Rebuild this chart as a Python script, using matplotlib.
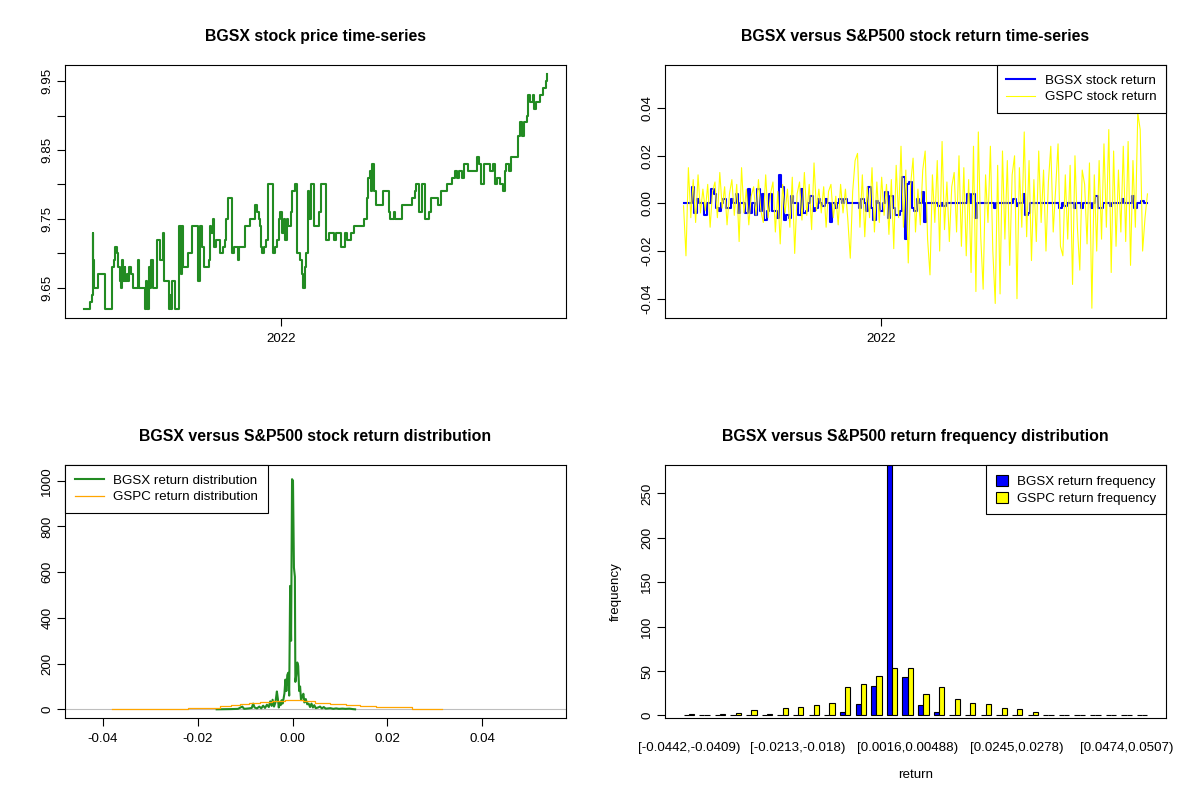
import numpy as np
import pandas as pd
import matplotlib
matplotlib.use("Agg")
import matplotlib.pyplot as plt
from matplotlib.patches import Patch

plt.rcParams['font.family'] = ['Liberation Sans', 'DejaVu Sans']

# ---- data ----
start = pd.Timestamp("2021-05-05")
end = pd.Timestamp("2022-11-22")

# BGSX price: change points (days since start, price)
price_day = [0, 8, 10, 11.5, 12, 13, 18, 26, 35, 37, 38, 41, 42, 44, 45.6, 47, 48, 50, 51, 53,
             54.6, 56, 58, 60, 66, 68, 74.5, 76.5, 78, 80, 81.4, 82, 84.7, 90, 93, 97, 98.5, 104, 105, 106.6,
             108, 112, 117, 119, 120, 121.7, 128, 132, 140, 142, 145, 147, 152.6, 154, 156, 158, 159.5, 161, 167, 170,
             172.5, 174, 176, 181.5, 184, 188, 190, 197, 202.6, 209.5, 211.5, 214, 215, 216.4, 217.6, 220.5, 222, 224.5, 231, 234,
             236, 238, 240, 242.4, 244.5, 246, 247.7, 249.8, 253, 254.6, 258, 261, 263.6, 266, 267.7, 270, 272, 273.4, 275.4, 277.4,
             280.7, 286.8, 289.6, 296, 300, 306, 308, 314, 319, 321, 326, 330, 341.7, 345.7, 347.4, 349, 350.6, 352, 354.7, 356.3,
             365, 372.6, 373.4, 379, 380, 388.4, 400.6, 404.7, 406, 409, 413, 416, 422, 424, 433, 436, 444, 449.4, 453.5, 456,
             458, 461.6, 464.5, 468.6, 480, 482.4, 485, 488, 495.4, 500, 501.5, 505, 508.4, 511.7, 513.7, 515.7, 518.6, 521.4, 530, 533,
             535, 537, 541, 542, 545, 548, 549.5, 552, 556.4, 560, 564, 565.4, 566]
price = [9.62, 9.63, 9.64, 9.73, 9.69, 9.65, 9.67, 9.62, 9.68, 9.69, 9.71, 9.70, 9.68, 9.66, 9.65, 9.69, 9.66, 9.68, 9.66, 9.67,
         9.66, 9.68, 9.67, 9.65, 9.69, 9.65, 9.62, 9.66, 9.62, 9.68, 9.65, 9.69, 9.65, 9.72, 9.69, 9.73, 9.66, 9.62, 9.64, 9.62,
         9.66, 9.62, 9.74, 9.67, 9.74, 9.68, 9.70, 9.74, 9.66, 9.74, 9.71, 9.68, 9.69, 9.74, 9.73, 9.75, 9.71, 9.72, 9.70, 9.71,
         9.72, 9.75, 9.78, 9.70, 9.71, 9.69, 9.71, 9.74, 9.75, 9.77, 9.76, 9.75, 9.74, 9.71, 9.70, 9.71, 9.72, 9.80, 9.70, 9.71,
         9.72, 9.75, 9.76, 9.73, 9.75, 9.72, 9.75, 9.74, 9.76, 9.79, 9.80, 9.70, 9.69, 9.67, 9.65, 9.68, 9.70, 9.79, 9.75, 9.80,
         9.74, 9.76, 9.80, 9.72, 9.73, 9.72, 9.73, 9.71, 9.73, 9.72, 9.73, 9.74, 9.75, 9.78, 9.81, 9.82, 9.79, 9.83, 9.79, 9.77,
         9.79, 9.76, 9.75, 9.76, 9.75, 9.77, 9.78, 9.79, 9.80, 9.76, 9.80, 9.75, 9.76, 9.78, 9.77, 9.79, 9.80, 9.81, 9.82, 9.81,
         9.82, 9.81, 9.83, 9.82, 9.84, 9.83, 9.80, 9.83, 9.82, 9.83, 9.80, 9.81, 9.80, 9.79, 9.82, 9.83, 9.82, 9.84, 9.87, 9.89,
         9.87, 9.89, 9.90, 9.93, 9.92, 9.93, 9.91, 9.92, 9.93, 9.94, 9.95, 9.96, 9.96]

# daily returns, in thousandths, sampled evenly over the same period
gspc_ret = [-1, -22, 15, -6, 10, -8, 12, -4, 6,
            -3, 8, -10, 5, 9, -6, 13, -2, 7, -9, 4, 10, -5,
            8, -16, 15, -4, 6, -9, 3,
            7, -5, 10, -3, -8, 12, -6, 4, 9, -12, 5, -17, 8, -4,
            6, -10, 11, -21, 4, 9, -7, 13, -5, 8, -11, 17, -3, 6,
            -4, 7, -10, 5, 8, -6, 3, -9, 8, -4, 6, -7, -23, 5,
            18, 21, -10, 12, -14, 7, -6, 15, -12, 9, -8, 11, -5, 8,
            -13, 10, -19, 16, -6, 24, -10, 14, -25, 8, 19, -12, 6, -9,
            14, 22, -15, -30, 12, -8, 18, -20, 26, -11, 9, -16, 7, 13,
            -12, 20, -18, 15, -22, 10, -29, 24, -37, 30, -14, -36, 12, -8,
            24, -20, -42, 16, -38, 22, -15, 18, -26, 12, 20, -40, 15, -10,
            30, -14, 18, -24, 10, -16, 22, -8, 14, -20, 9, 24, -12, 6,
            25, -18, -22, 12, -15, 16, -34, 20, -10, -28, 14, 8, -17, 17,
            -44, 12, -20, 18, -15, 25, -10, 31, -29, 22, -18, 14, -12, 24,
            -16, 26, -26, 18, -10, 38, 31, -20, -6, 4]
bgsx_ret = [0, 0, 0, 0, 7, -4, 2, 0, 0, -5,
            0, 0, 6, 4, -2, -3, 0, 2, -2, -2,
            2, 0, 4, -4, 0, 0, -4, 6, -4, 0,
            -5, 6, -3, 4, -7, -3, 4, -3, -3, -6,
            12, 7, -7, -5, -6, 3, 0, 0, -5, 6,
            -4, -3, 0, 3, -3, -2, 2, 0, -1, 2,
            0, -8, 0, -2, 0, 2, 0, 2, 0, 0,
            0, 0, 0, -2, 2, 0, -3, 7, -2, -7,
            1, 0, -3, 0, 5, -6, 3, -2, -5, -5,
            -3, 11, -15, 8, 9, -2, -3, 2, 0, 5,
            -8, 0, 0, 0, 0, 0, -1, 0, -1, 0,
            0, 0, 0, 0, 0, 0, 0, 0, 4, 0,
            4, -6, 0, 0, 0, 0, 0, 0, 0, -2,
            0, 0, 0, 0, 0, 0, 0, 2, -1, 0,
            0, 4, -5, -4, 0, 0, 0, 0, 0, 0,
            0, 0, 0, 0, 0, 0, -2, 0, -1, 0,
            0, 0, -2, 0, 0, -2, 0, 0, 0, -2,
            0, 3, -2, -2, 0, 0, 0, -1, 0, 0,
            0, 0, 2, 0, 0, 0, 3, -2, 0, 0,
            1, 0, 0]

# return densities
bgsx_dens_x = [-0.0160, -0.0130, -0.0115, -0.0106, -0.0102, -0.0092, -0.0086, -0.0083, -0.0080, -0.0075,
               -0.0070, -0.0066, -0.0062, -0.0058, -0.0054, -0.0050, -0.0047, -0.0044, -0.0042, -0.0039,
               -0.0036, -0.0033, -0.0031, -0.0029, -0.0027, -0.0025, -0.0023, -0.0021, -0.0019, -0.0017,
               -0.0015, -0.0013, -0.0011, -0.0009, -0.0007, -0.0005, -0.0003, -0.0001, 0.0001, 0.0003,
               0.0005, 0.0006, 0.0008, 0.0010, 0.0012, 0.0014, 0.0016, 0.0018, 0.0021, 0.0023,
               0.0025, 0.0028, 0.0031, 0.0034, 0.0037, 0.0040, 0.0043, 0.0046, 0.0049, 0.0054,
               0.0058, 0.0062, 0.0066, 0.0070, 0.0075, 0.0080, 0.0086, 0.0092, 0.0098, 0.0105,
               0.0112, 0.0120, 0.0127, 0.0132]
bgsx_dens_y = [0, 1, 2, 12, 2, 4, 6, 25, 8, 4,
               12, 4, 16, 6, 20, 10, 35, 15, 42, 12,
               30, 78, 48, 8, 30, 18, 40, 25, 45, 70,
               130, 80, 150, 160, 60, 540, 300, 1007, 1000, 620,
               580, 120, 150, 205, 190, 80, 100, 40, 60, 68,
               30, 45, 22, 25, 10, 25, 8, 18, 5, 8,
               12, 4, 10, 3, 4, 5, 2, 4, 2, 3,
               2, 3, 1, 0]
gspc_dens_x = [-0.0381, -0.0220, -0.0154, -0.0129, -0.0110, -0.0092, -0.0069, -0.0044, -0.0016,
               0.0023, 0.0048, 0.0080, 0.0112, 0.0143, 0.0176, 0.0253, 0.0316]
gspc_dens_y = [3, 7, 13, 19, 23, 28, 31, 35, 39, 35, 28, 22, 17, 13, 9, 3, 3]

# return frequency per bin
bgsx_freq = [0, 1, 0, 0, 0, 0, 0, 0, 1, 0, 4, 13, 33, 282, 43, 12, 4, 1, 0, 0, 0, 0, 0, 0, 0, 0, 0, 0, 0, 0]
gspc_freq = [2, 1, 2, 3, 6, 2, 8, 10, 12, 14, 32, 35, 44, 53, 53, 24, 32, 19, 14, 13, 9, 7, 4, 0, 0, 0, 0, 0, 0, 0]
bin_tick_idx = [0, 7, 14, 21, 28]
bin_tick_labels = ["[-0.0442,-0.0409)", "[-0.0213,-0.018)", "[0.0016,0.00488)",
                   "[0.0245,0.0278)", "[0.0474,0.0507)"]

# ---- figure ----
fig = plt.figure(figsize=(12, 8), dpi=100)
W, H = 1200, 800
FS = 9.6


def panel(x0, y0, x1, y1):
    return fig.add_axes([x0 / W, 1 - y1 / H, (x1 - x0) / W, (y1 - y0) / H])


def style(ax, title):
    for s in ax.spines.values():
        s.set_linewidth(0.8)
    ax.tick_params(direction="out", length=5.5, width=0.8, labelsize=FS, pad=3)
    ax.tick_params(axis="x", pad=5)
    ax.set_title(title, fontsize=11.4, fontweight="bold", pad=17.5)


def rotate_y(ax):
    plt.setp(ax.get_yticklabels(), rotation=90, va="center")


def legend(ax, **kw):
    leg = ax.legend(borderaxespad=0, fancybox=False, edgecolor="black", framealpha=1,
                    fontsize=FS, handletextpad=0.7, labelspacing=0.3, borderpad=0.72, **kw)
    leg.get_frame().set_linewidth(0.8)
    return leg


pad_days = pd.Timedelta(days=0.04 * (end - start).days)
tick2022 = [pd.Timestamp("2022-01-01")]

# price time series
ax1 = panel(65, 65, 566, 318)
price_dates = start + pd.to_timedelta(price_day, unit="D")
ax1.plot(price_dates, price, color="forestgreen", lw=1.5, drawstyle="steps-post")
ax1.set_xlim(start - pad_days, end + pad_days)
ax1.set_ylim(9.6065, 9.9732)
ax1.set_xticks(tick2022)
ax1.set_xticklabels(["2022"])
ax1.set_yticks([9.65, 9.70, 9.75, 9.80, 9.85, 9.90, 9.95])
ax1.set_yticklabels(["9.65", "", "9.75", "", "9.85", "", "9.95"])
style(ax1, "BGSX stock price time-series")
rotate_y(ax1)

# returns time series
ax2 = panel(665, 65, 1166, 318)
ret_dates = pd.date_range(start, end, periods=len(gspc_ret))
ax2.plot(ret_dates, np.array(bgsx_ret) / 1000, color="blue", lw=1.5, drawstyle="steps-mid",
         label="BGSX stock return")
ax2.plot(ret_dates, np.array(gspc_ret) / 1000, color="yellow", lw=0.8, label="GSPC stock return")
ax2.set_xlim(start - pad_days, end + pad_days)
ax2.set_ylim(-0.0481, 0.0581)
ax2.set_xticks(tick2022)
ax2.set_xticklabels(["2022"])
ax2.set_yticks([-0.04, -0.02, 0.0, 0.02, 0.04])
ax2.set_yticklabels(["-0.04", "-0.02", "0.00", "0.02", "0.04"])
style(ax2, "BGSX versus S&P500 stock return time-series")
rotate_y(ax2)
legend(ax2, loc="upper right", handlelength=2.2)

# return densities
ax3 = panel(65, 465, 566, 718)
ax3.axhline(0, color="#bebebe", lw=0.8)
ax3.plot(bgsx_dens_x, bgsx_dens_y, color="forestgreen", lw=1.5, label="BGSX return distribution")
ax3.plot(gspc_dens_x, gspc_dens_y, color="orange", lw=0.9, drawstyle="steps-post",
         label="GSPC return distribution")
ax3.set_xlim(-0.0480, 0.0577)
ax3.set_ylim(-38, 1069)
ax3.set_xticks([-0.04, -0.02, 0.0, 0.02, 0.04])
ax3.set_xticklabels(["-0.04", "-0.02", "0.00", "0.02", "0.04"])
ax3.set_yticks([0, 200, 400, 600, 800, 1000])
style(ax3, "BGSX versus S&P500 stock return distribution")
rotate_y(ax3)
legend(ax3, loc="upper left", handlelength=2.2)

# return frequency histogram
ax4 = panel(665, 465, 1166, 718)
grp = np.arange(len(bgsx_freq)) * 3
ax4.bar(grp + 1.5, bgsx_freq, width=1, color="blue", edgecolor="black", lw=0.8)
ax4.bar(grp + 2.5, gspc_freq, width=1, color="yellow", edgecolor="black", lw=0.8)
ax4.set_xlim(1 - 0.04 * 89, 90 + 0.04 * 89)
ax4.set_ylim(-2.82, 282)
ax4.set_yticks([0, 50, 100, 150, 200, 250])
ax4.set_xticks([2 + 3 * k for k in bin_tick_idx])
ax4.set_xticklabels(bin_tick_labels)
style(ax4, "BGSX versus S&P500 return frequency distribution")
ax4.tick_params(axis="x", length=0, pad=17)
rotate_y(ax4)
ax4.set_xlabel("return", fontsize=FS, labelpad=11)
ax4.set_ylabel("frequency", fontsize=FS, labelpad=14)
legend(ax4, handles=[Patch(facecolor="blue", edgecolor="black", lw=0.8, label="BGSX return frequency"),
                     Patch(facecolor="yellow", edgecolor="black", lw=0.8, label="GSPC return frequency")],
       loc="upper right", handlelength=0.9, handleheight=0.9)

fig.savefig("out.png", dpi=100)
